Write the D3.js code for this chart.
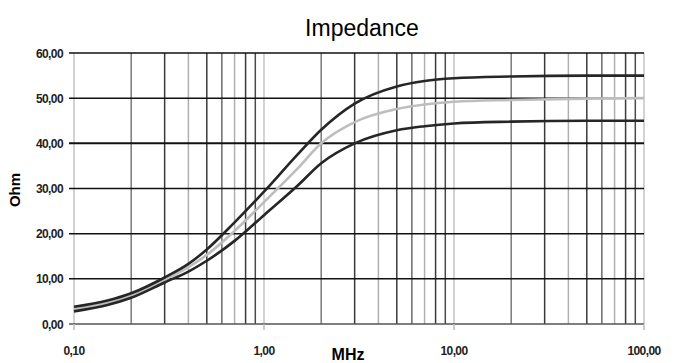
<!DOCTYPE html>
<html>
<head>
<meta charset="utf-8">
<script src="https://cdn.jsdelivr.net/npm/d3@7/dist/d3.min.js"></script>
<style>
  body { margin: 0; background: #fff; }
  text { font-family: "Liberation Sans", Arial, sans-serif; }
</style>
</head>
<body>
<div id="chart-area"></div>
<script>
// frequencies in MHz
const freqs = [0.1, 0.15, 0.2, 0.3, 0.4, 0.5, 0.7, 1, 1.5, 2, 3, 5, 7, 10, 20, 50, 100]
const upperOhm = [3.8, 5.2, 6.8, 10.3, 13.3, 16.5, 22.5, 29.3, 37.5, 43, 48.8, 52.6, 53.8, 54.4, 54.8, 55, 55]
const nominalOhm = [3.3, 4.7, 6.3, 9.8, 12.6, 15.3, 20.6, 27, 34.4, 40, 44.7, 47.6, 48.6, 49.2, 49.6, 49.9, 50]
const lowerOhm = [2.8, 4.2, 5.8, 9.2, 11.6, 14, 18.4, 24.1, 30.6, 35.6, 40, 42.9, 43.8, 44.4, 44.8, 45, 45]
const yTicks = [0, 10, 20, 30, 40, 50, 60]
const xTicks = [0.1, 1, 10, 100]

const MARGIN = { LEFT: 74, RIGHT: 33, TOP: 53, BOTTOM: 39 }
const WIDTH = 677 - MARGIN.LEFT - MARGIN.RIGHT
const HEIGHT = 363 - MARGIN.TOP - MARGIN.BOTTOM

const svg = d3.select("#chart-area").append("svg")
  .attr("width", 677)
  .attr("height", 363)

const g = svg.append("g")
  .attr("transform", `translate(${MARGIN.LEFT}, ${MARGIN.TOP})`)

const x = d3.scaleLog().domain([0.1, 100]).range([0, WIDTH])
const y = d3.scaleLinear().domain([0, 60]).range([HEIGHT, 0])

const fmt = d => d.toFixed(2).replace(".", ",")

// vertical grid, shade depends on the multiplier (as in the scan)
const shade = { 1: "#c4c4c4", 2: "#7a7a7a", 3: "#3a3a3a", 4: "#b0b0b0", 5: "#3a3a3a",
                6: "#6a6a6a", 7: "#b0b0b0", 8: "#3a3a3a", 9: "#4a4a4a" }
const vLines = []
for (let dec = 0.1; dec < 100; dec *= 10) {
  for (let m = 1; m <= 9; m++) vLines.push({ v: dec * m, m: m })
}
vLines.push({ v: 100, m: 1 })

g.selectAll(".vgrid").data(vLines).enter().append("line")
  .attr("class", "vgrid")
  .attr("x1", d => x(d.v)).attr("x2", d => x(d.v))
  .attr("y1", 0).attr("y2", HEIGHT)
  .attr("stroke", d => shade[d.m])
  .attr("stroke-width", 1.5)

// horizontal grid
g.selectAll(".hgrid").data(yTicks).enter().append("line")
  .attr("class", "hgrid")
  .attr("x1", -5).attr("x2", WIDTH)
  .attr("y1", d => y(d)).attr("y2", d => y(d))
  .attr("stroke", d => d === 0 ? "#555" : "#111")
  .attr("stroke-width", d => d === 40 ? 2 : 1.5)

// y labels
g.selectAll(".ylab").data(yTicks).enter().append("text")
  .attr("class", "ylab")
  .attr("x", -11)
  .attr("y", d => y(d) + 4.5)
  .attr("text-anchor", "end")
  .attr("font-size", "12px")
  .attr("font-weight", "bold")
  .attr("letter-spacing", "-0.6px")
  .attr("fill", "#222")
  .text(fmt)

// x ticks + labels
g.selectAll(".xtick").data(xTicks).enter().append("line")
  .attr("x1", d => x(d)).attr("x2", d => x(d))
  .attr("y1", HEIGHT).attr("y2", HEIGHT + 6)
  .attr("stroke", "#bbb").attr("stroke-width", 1.5)

g.selectAll(".xlab").data(xTicks).enter().append("text")
  .attr("class", "xlab")
  .attr("x", d => x(d))
  .attr("y", HEIGHT + 31)
  .attr("text-anchor", "middle")
  .attr("font-size", "12px")
  .attr("font-weight", "bold")
  .attr("letter-spacing", "-0.6px")
  .attr("fill", "#222")
  .text(fmt)

// curves
const series = [
  { vals: nominalOhm, color: "#bdbdbd" },
  { vals: upperOhm, color: "#262626" },
  { vals: lowerOhm, color: "#262626" }
]
const line = d3.line()
  .x(d => x(d[0]))
  .y(d => y(d[1]))
  .curve(d3.curveMonotoneX)

g.selectAll(".curve").data(series).enter().append("path")
  .attr("class", "curve")
  .attr("fill", "none")
  .attr("stroke", d => d.color)
  .attr("stroke-width", 2.6)
  .attr("d", d => line(freqs.map((f, i) => [f, d.vals[i]])))

// title
svg.append("text")
  .attr("x", 362).attr("y", 36)
  .attr("text-anchor", "middle")
  .attr("font-size", "23px")
  .text("Impedance")

// axis titles
svg.append("text")
  .attr("x", 348).attr("y", 360)
  .attr("text-anchor", "middle")
  .attr("font-size", "16px")
  .attr("font-weight", "bold")
  .text("MHz")

svg.append("text")
  .attr("transform", "translate(20, 190) rotate(-90)")
  .attr("text-anchor", "middle")
  .attr("font-size", "15px")
  .attr("font-weight", "bold")
  .text("Ohm")
</script>
</body>
</html>
